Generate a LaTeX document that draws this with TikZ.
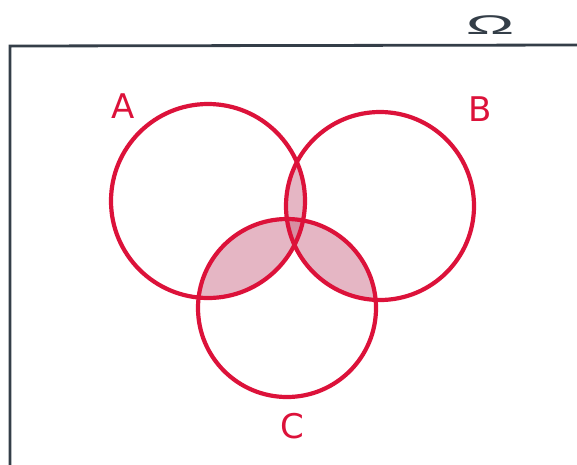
\documentclass[tikz,border=0pt]{standalone}
\usepackage{fontspec}
\setsansfont{DejaVu Sans}
\newfontfamily\omegafont{Liberation Sans}
\definecolor{setred}{RGB}{220,18,58}
\definecolor{setfill}{RGB}{212,134,156}
\definecolor{frameink}{RGB}{52,62,72}
\begin{document}
\begin{tikzpicture}[x=1pt, y=-1pt]
        \tikzset{setline/.style={draw=setred, line width=4.2pt},
                 setlabel/.style={text=setred, font=\sffamily\fontsize{34}{34}\selectfont, inner sep=0pt},
                 shade/.style={fill=setfill, fill opacity=0.6}}
        \useasboundingbox (0,0) rectangle (577,464);
        \coordinate (cA) at (208,201);
        \coordinate (cB) at (380,206);
        \coordinate (cC) at (287,308);
        % pairwise overlaps
        \begin{scope}\clip (cA) circle (97); \fill[shade] (cB) circle (94);\end{scope}
        \begin{scope}\clip (cA) circle (97); \fill[shade] (cC) circle (89);\end{scope}
        \begin{scope}\clip (cB) circle (94); \fill[shade] (cC) circle (89);\end{scope}
        \draw[setline] (cA) circle (97);
        \draw[setline] (cB) circle (94);
        \draw[setline] (cC) circle (89);
        % universe
        \draw[frameink, line width=2.8pt] (10,470) -- (10,46) -- (580,45);
        \node[text=frameink, font=\omegafont\fontsize{27}{27}\selectfont, inner sep=0pt, xscale=2.4] (omega) at (490,25) {Ω};
        \node[setlabel] (labA) at (123,106) {A};
        \node[setlabel] (labB) at (480,109) {B};
        \node[setlabel] (labC) at (292,426) {C};
    \end{tikzpicture}
\end{document}
